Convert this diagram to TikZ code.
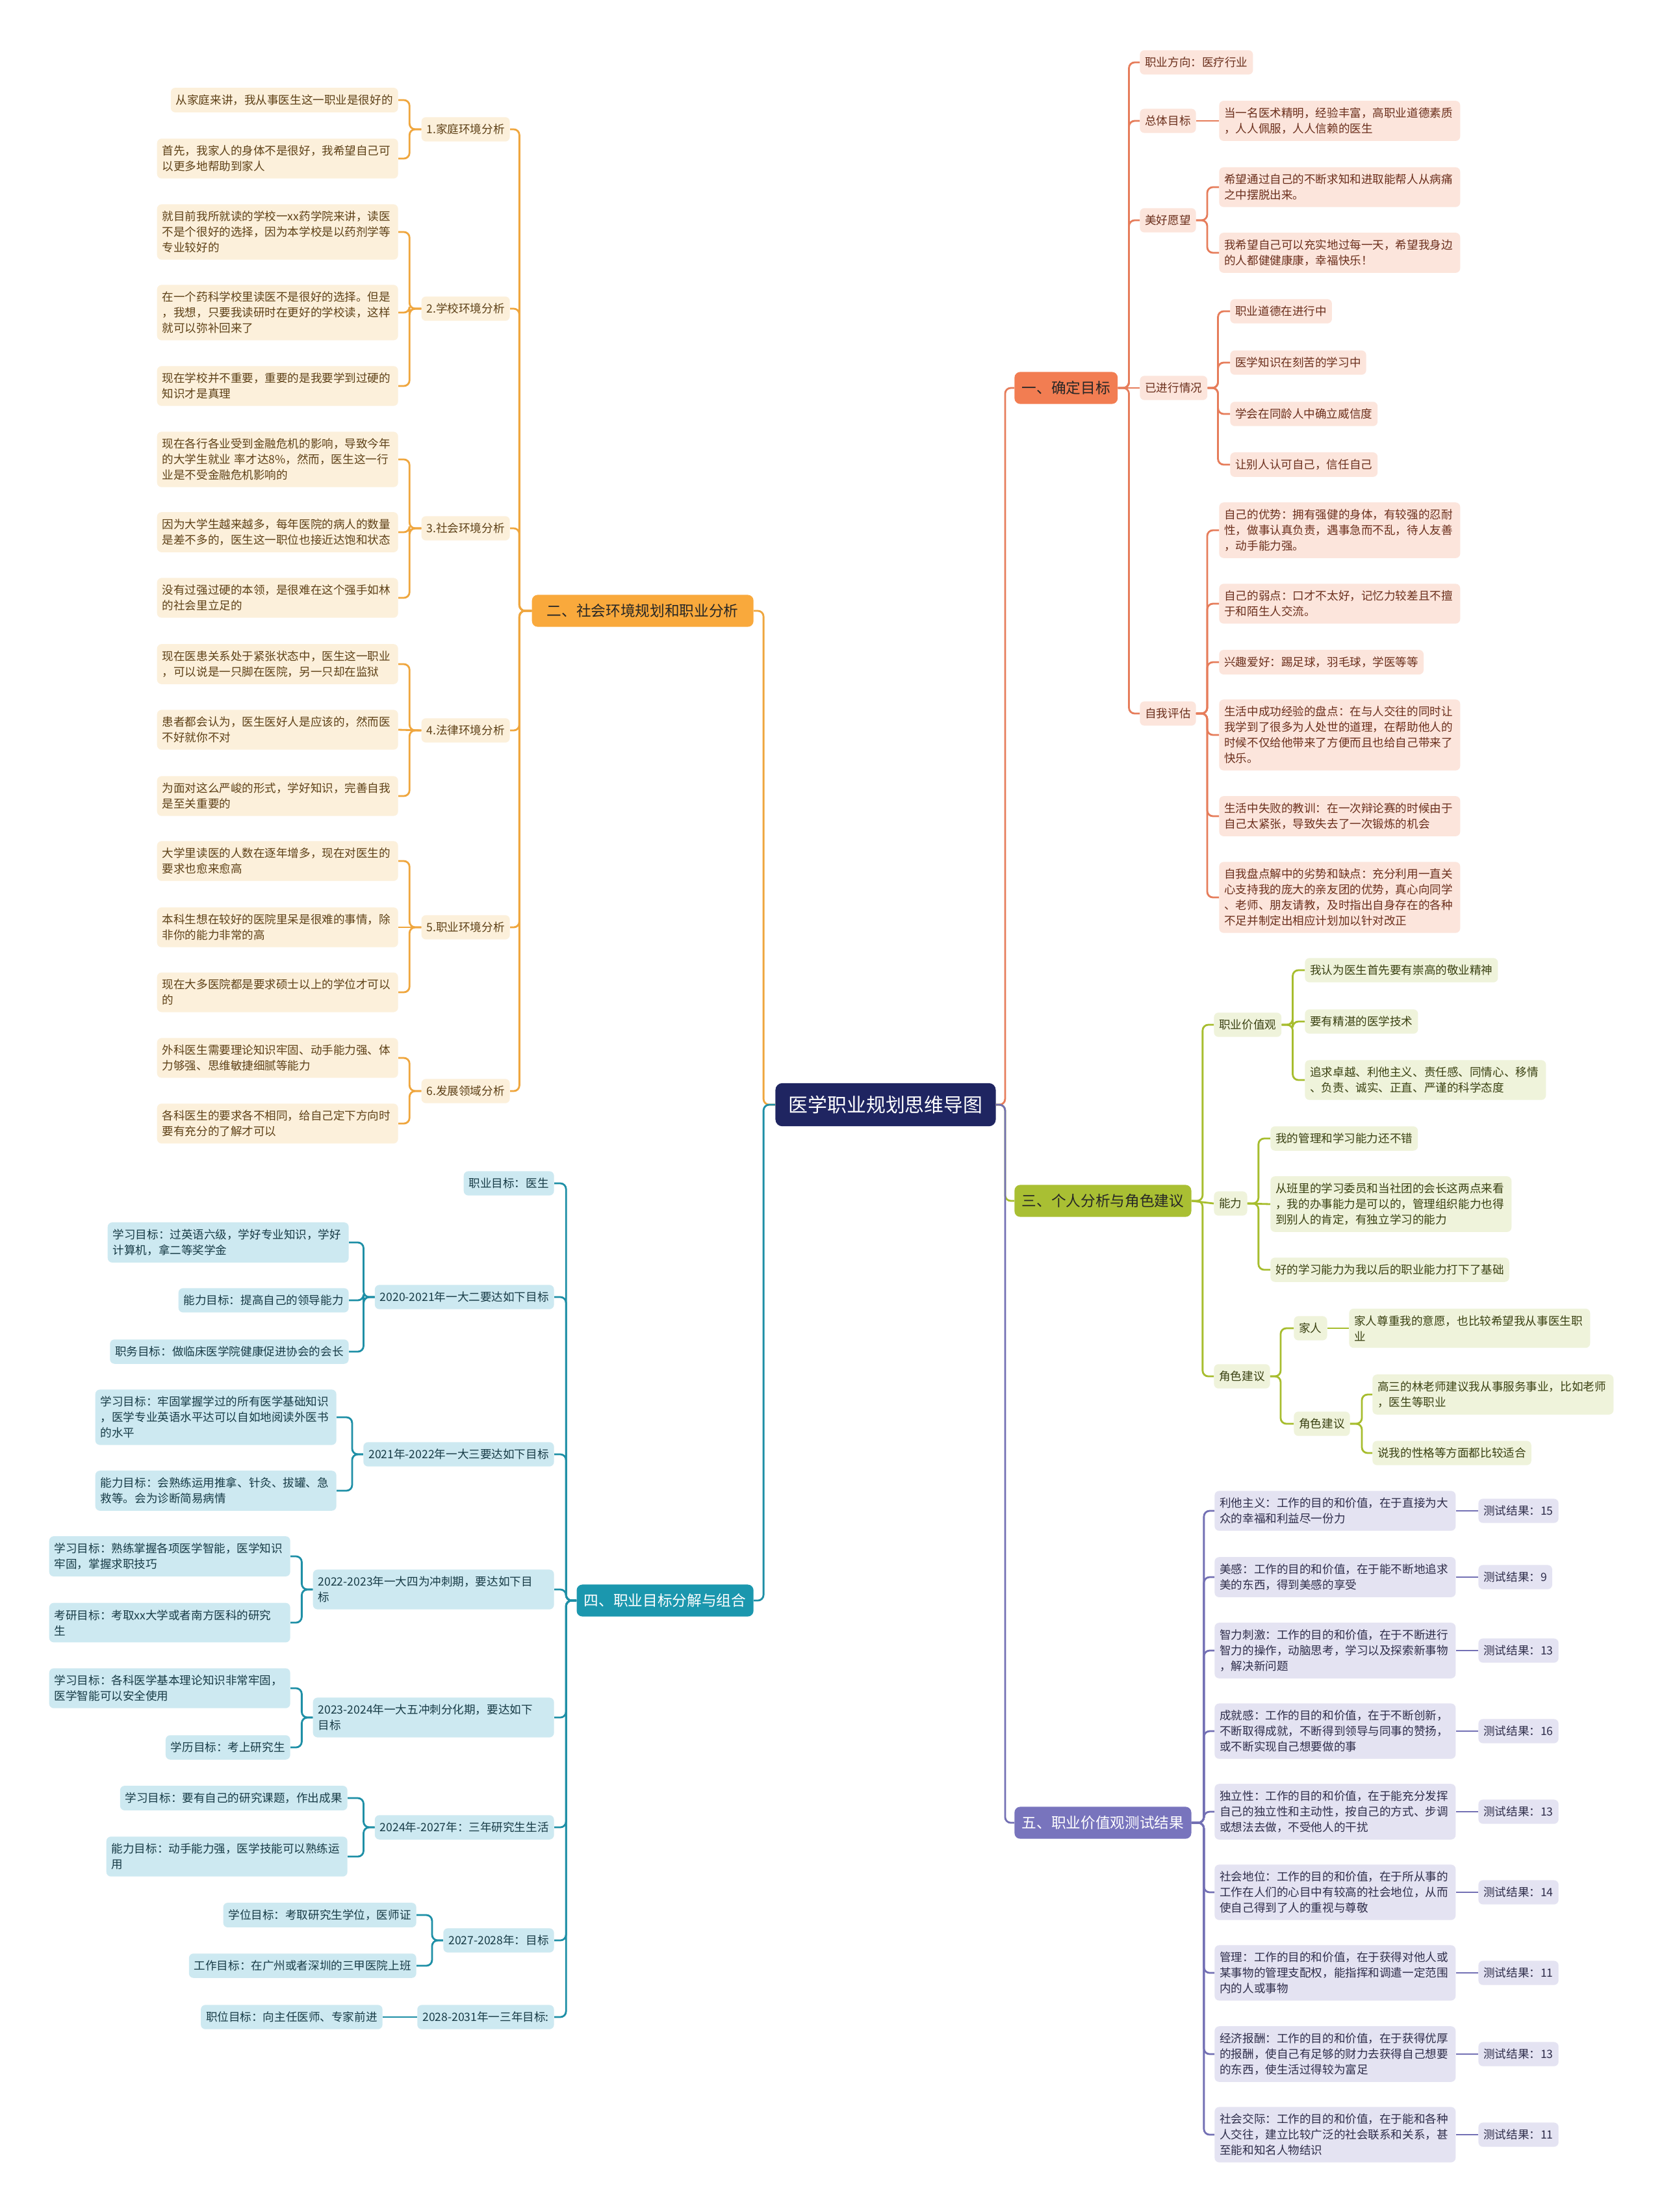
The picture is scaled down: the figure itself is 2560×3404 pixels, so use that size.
\documentclass[tikz,border=0pt]{standalone}
\usepackage{fontspec}
\setmainfont{Noto Sans CJK SC}
\definecolor{rootblue}{HTML}{1F2561}
\definecolor{coralline}{HTML}{E67D5B}
\definecolor{coralfill}{HTML}{F27D52}
\definecolor{coralleaf}{HTML}{FCE5DC}
\definecolor{coraltext}{HTML}{6B2F1C}
\definecolor{orangeline}{HTML}{EFA63E}
\definecolor{orangefill}{HTML}{F9A93C}
\definecolor{orangeleaf}{HTML}{FCF0DB}
\definecolor{orangetext}{HTML}{5E4117}
\definecolor{greenline}{HTML}{A7BD2E}
\definecolor{greenfill}{HTML}{A9BF33}
\definecolor{greenleaf}{HTML}{EFF3DB}
\definecolor{greentext}{HTML}{3A4112}
\definecolor{tealline}{HTML}{1E8FA6}
\definecolor{tealfill}{HTML}{1B97AE}
\definecolor{tealleaf}{HTML}{CDE9F1}
\definecolor{tealtext}{HTML}{173B46}
\definecolor{purpleline}{HTML}{7370B4}
\definecolor{purplefill}{HTML}{7874BD}
\definecolor{purpleleaf}{HTML}{E4E3F2}
\definecolor{purpletext}{HTML}{2E2D4A}
\begin{document}
\begin{tikzpicture}[
    x=0.02cm, y=-0.02cm,
    font=\fontsize{10pt}{13.6pt}\selectfont,
    leafbox/.style={rounded corners=4pt, inner xsep=4.55pt, inner ysep=6pt, align=left},
    widebox/.style={text width=7.1cm},
    secbox/.style={rounded corners=5pt, inner xsep=6.5pt, inner ysep=8pt, font=\fontsize{12.9pt}{15pt}\selectfont},
    rootbox/.style={rounded corners=6pt, fill=rootblue, text=white, inner xsep=11.5pt, inner ysep=11pt, font=\fontsize{17pt}{20pt}\selectfont},
    coralsec/.style={secbox, fill=coralfill, text=black!85},
    orangesec/.style={secbox, fill=orangefill, text=black!85},
    greensec/.style={secbox, fill=greenfill, text=black!85},
    tealsec/.style={secbox, fill=tealfill, text=white},
    purplesec/.style={secbox, fill=purplefill, text=white},
    coralbox/.style={leafbox, fill=coralleaf, text=coraltext},
    orangebox/.style={leafbox, fill=orangeleaf, text=orangetext},
    greenbox/.style={leafbox, fill=greenleaf, text=greentext},
    tealbox/.style={leafbox, fill=tealleaf, text=tealtext},
    purplebox/.style={leafbox, fill=purpleleaf, text=purpletext},
    coralbranch/.style={draw=coralline, line width=1.6pt, rounded corners=5pt},
    orangebranch/.style={draw=orangeline, line width=1.6pt, rounded corners=5pt},
    greenbranch/.style={draw=greenline, line width=1.6pt, rounded corners=5pt},
    tealbranch/.style={draw=tealline, line width=1.6pt, rounded corners=5pt},
    purplebranch/.style={draw=purpleline, line width=1.6pt, rounded corners=5pt}
  ]
  \fill[white] (0,0) rectangle (2560,3404);
  \useasboundingbox (0,0) rectangle (2560,3404);

  \node[rootbox] (root) at (1363,1700) {医学职业规划思维导图};

  \node[coralsec, anchor=west] (goal) at (1561,597) {一、确定目标};
  \node[coralbox, anchor=west] (goaldir) at (1754,96) {职业方向：医疗行业};
  \node[coralbox, anchor=west] (overall) at (1754,186) {总体目标};
  \node[coralbox, widebox, anchor=west] (overalltxt) at (1876,186) {当一名医术精明，经验丰富，高职业道德素质\\，人人佩服，人人信赖的医生};
  \node[coralbox, anchor=west] (wish) at (1754,339) {美好愿望};
  \node[coralbox, widebox, anchor=west] (wisha) at (1876,288) {希望通过自己的不断求知和进取能帮人从病痛\\之中摆脱出来。};
  \node[coralbox, widebox, anchor=west] (wishb) at (1876,389) {我希望自己可以充实地过每一天，希望我身边\\的人都健健康康，幸福快乐！};
  \node[coralbox, anchor=west] (done) at (1754,597) {已进行情况};
  \node[coralbox, anchor=west] (donea) at (1893,479) {职业道德在进行中};
  \node[coralbox, anchor=west] (doneb) at (1893,558) {医学知识在刻苦的学习中};
  \node[coralbox, anchor=west] (donec) at (1893,637) {学会在同龄人中确立威信度};
  \node[coralbox, anchor=west] (doned) at (1893,715) {让别人认可自己，信任自己};
  \node[coralbox, anchor=west] (selfeval) at (1754,1098) {自我评估};
  \node[coralbox, widebox, anchor=west] (evala) at (1876,816) {自己的优势：拥有强健的身体，有较强的忍耐\\性，做事认真负责，遇事急而不乱，待人友善\\，动手能力强。};
  \node[coralbox, widebox, anchor=west] (evalb) at (1876,929) {自己的弱点：口才不太好，记忆力较差且不擅\\于和陌生人交流。};
  \node[coralbox, anchor=west] (evalc) at (1876,1019) {兴趣爱好：踢足球，羽毛球，学医等等};
  \node[coralbox, widebox, anchor=west] (evald) at (1876,1131) {生活中成功经验的盘点：在与人交往的同时让\\我学到了很多为人处世的道理，在帮助他人的\\时候不仅给他带来了方便而且也给自己带来了\\快乐。};
  \node[coralbox, widebox, anchor=west] (evale) at (1876,1256) {生活中失败的教训：在一次辩论赛的时候由于\\自己太紧张，导致失去了一次锻炼的机会};
  \node[coralbox, widebox, anchor=west] (evalf) at (1876,1381) {自我盘点解中的劣势和缺点：充分利用一直关\\心支持我的庞大的亲友团的优势，真心向同学\\、老师、朋友请教，及时指出自身存在的各种\\不足并制定出相应计划加以针对改正};

  \node[greensec, anchor=west] (person) at (1561,1848) {三、个人分析与角色建议};
  \node[greenbox, anchor=west] (values) at (1868,1577) {职业价值观};
  \node[greenbox, anchor=west] (valuea) at (2008,1493) {我认为医生首先要有崇高的敬业精神};
  \node[greenbox, anchor=west] (valueb) at (2008,1572) {要有精湛的医学技术};
  \node[greenbox, widebox, anchor=west] (valuec) at (2008,1662) {追求卓越、利他主义、责任感、同情心、移情\\、负责、诚实、正直、严谨的科学态度};
  \node[greenbox, anchor=west] (ability) at (1868,1852) {能力};
  \node[greenbox, anchor=west] (abila) at (1955,1752) {我的管理和学习能力还不错};
  \node[greenbox, widebox, anchor=west] (abilb) at (1955,1853) {从班里的学习委员和当社团的会长这两点来看\\，我的办事能力是可以的，管理组织能力也得\\到别人的肯定，有独立学习的能力};
  \node[greenbox, anchor=west] (abilc) at (1955,1954) {好的学习能力为我以后的职业能力打下了基础};
  \node[greenbox, anchor=west] (role) at (1868,2118) {角色建议};
  \node[greenbox, anchor=west] (family) at (1991,2044) {家人};
  \node[greenbox, widebox, anchor=west] (familytxt) at (2076,2044) {家人尊重我的意愿，也比较希望我从事医生职\\业};
  \node[greenbox, anchor=west] (teacher) at (1991,2191) {角色建议};
  \node[greenbox, widebox, anchor=west] (teachera) at (2112,2146) {高三的林老师建议我从事服务事业，比如老师\\，医生等职业};
  \node[greenbox, anchor=west] (teacherb) at (2112,2236) {说我的性格等方面都比较适合};

  \node[purplesec, anchor=west] (test) at (1561,2805) {五、职业价值观测试结果};
  \node[purplebox, widebox, anchor=west] (testa) at (1869,2325) {利他主义：工作的目的和价值，在于直接为大\\众的幸福和利益尽一份力};
  \node[purplebox, widebox, anchor=west] (testb) at (1869,2427) {美感：工作的目的和价值，在于能不断地追求\\美的东西，得到美感的享受};
  \node[purplebox, widebox, anchor=west] (testc) at (1869,2540) {智力刺激：工作的目的和价值，在于不断进行\\智力的操作，动脑思考，学习以及探索新事物\\，解决新问题};
  \node[purplebox, widebox, anchor=west] (testd) at (1869,2664) {成就感：工作的目的和价值，在于不断创新，\\不断取得成就，不断得到领导与同事的赞扬，\\或不断实现自己想要做的事};
  \node[purplebox, widebox, anchor=west] (teste) at (1869,2788) {独立性：工作的目的和价值，在于能充分发挥\\自己的独立性和主动性，按自己的方式、步调\\或想法去做，不受他人的干扰};
  \node[purplebox, widebox, anchor=west] (testf) at (1869,2912) {社会地位：工作的目的和价值，在于所从事的\\工作在人们的心目中有较高的社会地位，从而\\使自己得到了人的重视与尊敬};
  \node[purplebox, widebox, anchor=west] (testg) at (1869,3036) {管理：工作的目的和价值，在于获得对他人或\\某事物的管理支配权，能指挥和调遣一定范围\\内的人或事物};
  \node[purplebox, widebox, anchor=west] (testh) at (1869,3161) {经济报酬：工作的目的和价值，在于获得优厚\\的报酬，使自己有足够的财力去获得自己想要\\的东西，使生活过得较为富足};
  \node[purplebox, widebox, anchor=west] (testi) at (1869,3285) {社会交际：工作的目的和价值，在于能和各种\\人交往，建立比较广泛的社会联系和关系，甚\\至能和知名人物结识};
  \node[purplebox, anchor=west] (resa) at (2275,2325) {测试结果：15};
  \node[purplebox, anchor=west] (resb) at (2275,2427) {测试结果：9};
  \node[purplebox, anchor=west] (resc) at (2275,2540) {测试结果：13};
  \node[purplebox, anchor=west] (resd) at (2275,2664) {测试结果：16};
  \node[purplebox, anchor=west] (rese) at (2275,2788) {测试结果：13};
  \node[purplebox, anchor=west] (resf) at (2275,2912) {测试结果：14};
  \node[purplebox, anchor=west] (resg) at (2275,3036) {测试结果：11};
  \node[purplebox, anchor=west] (resh) at (2275,3161) {测试结果：13};
  \node[purplebox, anchor=west] (resi) at (2275,3285) {测试结果：11};

  \node[orangesec, anchor=east, minimum width=6.82cm] (env) at (1160,940) {二、社会环境规划和职业分析};
  \node[orangebox, anchor=east] (home) at (785,199) {1.家庭环境分析};
  \node[orangebox, anchor=east] (homea) at (613,154) {从家庭来讲，我从事医生这一职业是很好的};
  \node[orangebox, widebox, anchor=east] (homeb) at (613,244) {首先，我家人的身体不是很好，我希望自己可\\以更多地帮助到家人};
  \node[orangebox, anchor=east] (school) at (785,475) {2.学校环境分析};
  \node[orangebox, widebox, anchor=east] (schoola) at (613,357) {就目前我所就读的学校一xx药学院来讲，读医\\不是个很好的选择，因为本学校是以药剂学等\\专业较好的};
  \node[orangebox, widebox, anchor=east] (schoolb) at (613,481) {在一个药科学校里读医不是很好的选择。但是\\，我想，只要我读研时在更好的学校读，这样\\就可以弥补回来了};
  \node[orangebox, widebox, anchor=east] (schoolc) at (613,594) {现在学校并不重要，重要的是我要学到过硬的\\知识才是真理};
  \node[orangebox, anchor=east] (society) at (785,813) {3.社会环境分析};
  \node[orangebox, widebox, anchor=east] (societya) at (613,707) {现在各行各业受到金融危机的影响，导致今年\\的大学生就业 率才达8\%，然而，医生这一行\\业是不受金融危机影响的};
  \node[orangebox, widebox, anchor=east] (societyb) at (613,819) {因为大学生越来越多，每年医院的病人的数量\\是差不多的，医生这一职位也接近达饱和状态};
  \node[orangebox, widebox, anchor=east] (societyc) at (613,920) {没有过强过硬的本领，是很难在这个强手如林\\的社会里立足的};
  \node[orangebox, anchor=east] (law) at (785,1124) {4.法律环境分析};
  \node[orangebox, widebox, anchor=east] (lawa) at (613,1022) {现在医患关系处于紧张状态中，医生这一职业\\，可以说是一只脚在医院，另一只却在监狱};
  \node[orangebox, widebox, anchor=east] (lawb) at (613,1123) {患者都会认为，医生医好人是应该的，然而医\\不好就你不对};
  \node[orangebox, widebox, anchor=east] (lawc) at (613,1225) {为面对这么严峻的形式，学好知识，完善自我\\是至关重要的};
  \node[orangebox, anchor=east] (job) at (785,1427) {5.职业环境分析};
  \node[orangebox, widebox, anchor=east] (joba) at (613,1325) {大学里读医的人数在逐年增多，现在对医生的\\要求也愈来愈高};
  \node[orangebox, widebox, anchor=east] (jobb) at (613,1427) {本科生想在较好的医院里呆是很难的事情，除\\非你的能力非常的高};
  \node[orangebox, widebox, anchor=east] (jobc) at (613,1527) {现在大多医院都是要求硕士以上的学位才可以\\的};
  \node[orangebox, anchor=east] (field) at (785,1679) {6.发展领域分析};
  \node[orangebox, widebox, anchor=east] (fielda) at (613,1628) {外科医生需要理论知识牢固、动手能力强、体\\力够强、思维敏捷细腻等能力};
  \node[orangebox, widebox, anchor=east] (fieldb) at (613,1729) {各科医生的要求各不相同，给自己定下方向时\\要有充分的了解才可以};

  \node[tealsec, anchor=east] (plan) at (1160,2463) {四、职业目标分解与组合};
  \node[tealbox, anchor=east] (career) at (853,1821) {职业目标：医生};
  \node[tealbox, anchor=east] (yeara) at (853,1996) {2020-2021年一大二要达如下目标};
  \node[tealbox, widebox, anchor=east] (yearaa) at (537,1912) {学习目标：过英语六级，学好专业知识，学好\\计算机，拿二等奖学金};
  \node[tealbox, anchor=east] (yearab) at (537,2001) {能力目标：提高自己的领导能力};
  \node[tealbox, anchor=east] (yearac) at (537,2080) {职务目标：做临床医学院健康促进协会的会长};
  \node[tealbox, anchor=east] (yearb) at (853,2238) {2021年-2022年一大三要达如下目标};
  \node[tealbox, widebox, anchor=east] (yearba) at (518,2181) {学习目标：牢固掌握学过的所有医学基础知识\\，医学专业英语水平达可以自如地阅读外医书\\的水平};
  \node[tealbox, widebox, anchor=east] (yearbb) at (518,2294) {能力目标：会熟练运用推拿、针灸、拔罐、急\\救等。会为诊断简易病情};
  \node[tealbox, widebox, anchor=east] (yearc) at (853,2446) {2022-2023年一大四为冲刺期，要达如下目\\标};
  \node[tealbox, widebox, anchor=east] (yearca) at (447,2395) {学习目标：熟练掌握各项医学智能，医学知识\\牢固，掌握求职技巧};
  \node[tealbox, widebox, anchor=east] (yearcb) at (447,2497) {考研目标：考取xx大学或者南方医科的研究\\生};
  \node[tealbox, widebox, anchor=east] (yeard) at (853,2643) {2023-2024年一大五冲刺分化期，要达如下\\目标};
  \node[tealbox, widebox, anchor=east] (yearda) at (447,2598) {学习目标：各科医学基本理论知识非常牢固，\\医学智能可以安全使用};
  \node[tealbox, anchor=east] (yeardb) at (447,2689) {学历目标：考上研究生};
  \node[tealbox, anchor=east] (yeare) at (853,2812) {2024年-2027年：三年研究生生活};
  \node[tealbox, anchor=east] (yearea) at (535,2767) {学习目标：要有自己的研究课题，作出成果};
  \node[tealbox, widebox, anchor=east] (yeareb) at (535,2857) {能力目标：动手能力强，医学技能可以熟练运\\用};
  \node[tealbox, anchor=east] (yearf) at (853,2986) {2027-2028年：目标};
  \node[tealbox, anchor=east] (yearfa) at (641,2947) {学位目标：考取研究生学位，医师证};
  \node[tealbox, anchor=east] (yearfb) at (641,3025) {工作目标：在广州或者深圳的三甲医院上班};
  \node[tealbox, anchor=east] (yearg) at (853,3104) {2028-2031年一三年目标:};
  \node[tealbox, anchor=east] (yearga) at (589,3104) {职位目标：向主任医师、专家前进};

  \draw[orangebranch] (root.west) -- ++(-18,0) |- (env.east);
  \draw[tealbranch] (root.west) -- ++(-18,0) |- (plan.east);
  \draw[coralbranch] (root.east) -- ++(14,0) |- (goal.west);
  \draw[greenbranch] (root.east) -- ++(14,0) |- (person.west);
  \draw[purplebranch] (root.east) -- ++(14,0) |- (test.west);

  \draw[coralbranch] (goal.east) -- ++(17,0) |- (goaldir.west);
  \draw[coralbranch] (goal.east) -- ++(17,0) |- (overall.west);
  \draw[coralbranch] (goal.east) -- ++(17,0) |- (wish.west);
  \draw[coralbranch] (goal.east) -- (done.west);
  \draw[coralbranch] (goal.east) -- ++(17,0) |- (selfeval.west);
  \draw[coralbranch] (overall.east) -- (overalltxt.west);
  \draw[coralbranch] (wish.east) -- ++(17,0) |- (wisha.west);
  \draw[coralbranch] (wish.east) -- ++(17,0) |- (wishb.west);
  \draw[coralbranch] (done.east) -- ++(16,0) |- (donea.west);
  \draw[coralbranch] (done.east) -- ++(16,0) |- (doneb.west);
  \draw[coralbranch] (done.east) -- ++(16,0) |- (donec.west);
  \draw[coralbranch] (done.east) -- ++(16,0) |- (doned.west);
  \draw[coralbranch] (selfeval.east) -- ++(17,0) |- (evala.west);
  \draw[coralbranch] (selfeval.east) -- ++(17,0) |- (evalb.west);
  \draw[coralbranch] (selfeval.east) -- ++(17,0) |- (evalc.west);
  \draw[coralbranch] (selfeval.east) -- ++(17,0) |- (evald.west);
  \draw[coralbranch] (selfeval.east) -- ++(17,0) |- (evale.west);
  \draw[coralbranch] (selfeval.east) -- ++(17,0) |- (evalf.west);

  \draw[greenbranch] (person.east) -- ++(17,0) |- (values.west);
  \draw[greenbranch] (person.east) -- (ability.west);
  \draw[greenbranch] (person.east) -- ++(17,0) |- (role.west);
  \draw[greenbranch] (values.east) -- ++(17,0) |- (valuea.west);
  \draw[greenbranch] (values.east) -- ++(17,0) |- (valueb.west);
  \draw[greenbranch] (values.east) -- ++(17,0) |- (valuec.west);
  \draw[greenbranch] (ability.east) -- ++(17,0) |- (abila.west);
  \draw[greenbranch] (ability.east) -- (abilb.west);
  \draw[greenbranch] (ability.east) -- ++(17,0) |- (abilc.west);
  \draw[greenbranch] (role.east) -- ++(16,0) |- (family.west);
  \draw[greenbranch] (role.east) -- ++(16,0) |- (teacher.west);
  \draw[greenbranch] (family.east) -- (familytxt.west);
  \draw[greenbranch] (teacher.east) -- ++(18,0) |- (teachera.west);
  \draw[greenbranch] (teacher.east) -- ++(18,0) |- (teacherb.west);

  \draw[purplebranch] (test.east) -- ++(19,0) |- (testa.west);
  \draw[purplebranch] (test.east) -- ++(19,0) |- (testb.west);
  \draw[purplebranch] (test.east) -- ++(19,0) |- (testc.west);
  \draw[purplebranch] (test.east) -- ++(19,0) |- (testd.west);
  \draw[purplebranch] (test.east) -- ++(19,0) |- (teste.west);
  \draw[purplebranch] (test.east) -- ++(19,0) |- (testf.west);
  \draw[purplebranch] (test.east) -- ++(19,0) |- (testg.west);
  \draw[purplebranch] (test.east) -- ++(19,0) |- (testh.west);
  \draw[purplebranch] (test.east) -- ++(19,0) |- (testi.west);
  \draw[purplebranch] (testa.east) -- (resa.west);
  \draw[purplebranch] (testb.east) -- (resb.west);
  \draw[purplebranch] (testc.east) -- (resc.west);
  \draw[purplebranch] (testd.east) -- (resd.west);
  \draw[purplebranch] (teste.east) -- (rese.west);
  \draw[purplebranch] (testf.east) -- (resf.west);
  \draw[purplebranch] (testg.east) -- (resg.west);
  \draw[purplebranch] (testh.east) -- (resh.west);
  \draw[purplebranch] (testi.east) -- (resi.west);

  \draw[orangebranch] (env.west) -- ++(-19,0) |- (home.east);
  \draw[orangebranch] (env.west) -- ++(-19,0) |- (school.east);
  \draw[orangebranch] (env.west) -- ++(-19,0) |- (society.east);
  \draw[orangebranch] (env.west) -- ++(-19,0) |- (law.east);
  \draw[orangebranch] (env.west) -- ++(-19,0) |- (job.east);
  \draw[orangebranch] (env.west) -- ++(-19,0) |- (field.east);
  \draw[orangebranch] (home.west) -- ++(-18,0) |- (homea.east);
  \draw[orangebranch] (home.west) -- ++(-18,0) |- (homeb.east);
  \draw[orangebranch] (school.west) -- ++(-18,0) |- (schoola.east);
  \draw[orangebranch] (school.west) -- ++(-18,0) |- (schoolb.east);
  \draw[orangebranch] (school.west) -- ++(-18,0) |- (schoolc.east);
  \draw[orangebranch] (society.west) -- ++(-18,0) |- (societya.east);
  \draw[orangebranch] (society.west) -- ++(-18,0) |- (societyb.east);
  \draw[orangebranch] (society.west) -- ++(-18,0) |- (societyc.east);
  \draw[orangebranch] (law.west) -- ++(-18,0) |- (lawa.east);
  \draw[orangebranch] (law.west) -- (lawb.east);
  \draw[orangebranch] (law.west) -- ++(-18,0) |- (lawc.east);
  \draw[orangebranch] (job.west) -- ++(-18,0) |- (joba.east);
  \draw[orangebranch] (job.west) -- (jobb.east);
  \draw[orangebranch] (job.west) -- ++(-18,0) |- (jobc.east);
  \draw[orangebranch] (field.west) -- ++(-18,0) |- (fielda.east);
  \draw[orangebranch] (field.west) -- ++(-18,0) |- (fieldb.east);

  \draw[tealbranch] (plan.west) -- ++(-16,0) |- (career.east);
  \draw[tealbranch] (plan.west) -- ++(-16,0) |- (yeara.east);
  \draw[tealbranch] (plan.west) -- ++(-16,0) |- (yearb.east);
  \draw[tealbranch] (plan.west) -- ++(-16,0) |- (yearc.east);
  \draw[tealbranch] (plan.west) -- ++(-16,0) |- (yeard.east);
  \draw[tealbranch] (plan.west) -- ++(-16,0) |- (yeare.east);
  \draw[tealbranch] (plan.west) -- ++(-16,0) |- (yearf.east);
  \draw[tealbranch] (plan.west) -- ++(-16,0) |- (yearg.east);
  \draw[tealbranch] (yeara.west) -- ++(-17,0) |- (yearaa.east);
  \draw[tealbranch] (yeara.west) -- ++(-17,0) |- (yearab.east);
  \draw[tealbranch] (yeara.west) -- ++(-17,0) |- (yearac.east);
  \draw[tealbranch] (yearb.west) -- ++(-17,0) |- (yearba.east);
  \draw[tealbranch] (yearb.west) -- ++(-17,0) |- (yearbb.east);
  \draw[tealbranch] (yearc.west) -- ++(-17,0) |- (yearca.east);
  \draw[tealbranch] (yearc.west) -- ++(-17,0) |- (yearcb.east);
  \draw[tealbranch] (yeard.west) -- ++(-17,0) |- (yearda.east);
  \draw[tealbranch] (yeard.west) -- ++(-17,0) |- (yeardb.east);
  \draw[tealbranch] (yeare.west) -- ++(-17,0) |- (yearea.east);
  \draw[tealbranch] (yeare.west) -- ++(-17,0) |- (yeareb.east);
  \draw[tealbranch] (yearf.west) -- ++(-17,0) |- (yearfa.east);
  \draw[tealbranch] (yearf.west) -- ++(-17,0) |- (yearfb.east);
  \draw[tealbranch] (yearg.west) -- (yearga.east);
\end{tikzpicture}
\end{document}
